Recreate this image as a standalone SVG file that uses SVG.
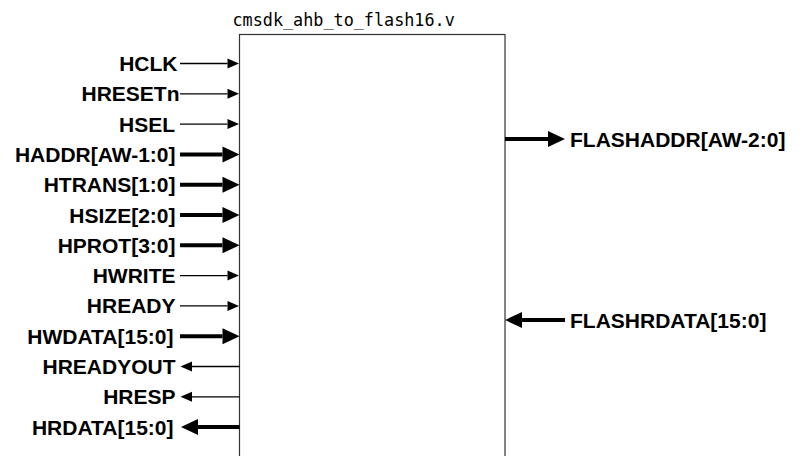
<svg xmlns="http://www.w3.org/2000/svg" width="805" height="456" viewBox="0 0 805 456">
<defs>
<style>
.lbl{font-family:"Liberation Sans",Arial,sans-serif;font-weight:bold;font-size:21px;fill:#000}
.title{font-family:"DejaVu Sans Mono",monospace;font-size:16.8px;fill:#000}
.thin{stroke:#000;stroke-width:1.3;fill:none}
.thick{stroke:#000;stroke-width:4;fill:none}
.box{fill:#fff;stroke:#333;stroke-width:1.2}
</style>
<marker id="hs" markerUnits="userSpaceOnUse" markerWidth="12" markerHeight="10" refX="0" refY="5" orient="auto" overflow="visible">
<path d="M0,0 L11.5,5 L0,10 Z" fill="#000"/>
</marker>
<marker id="hb" markerUnits="userSpaceOnUse" markerWidth="18" markerHeight="16" refX="0" refY="8" orient="auto" overflow="visible">
<path d="M0,0 L17,8 L0,16 Z" fill="#000"/>
</marker>
</defs>
<rect width="805" height="456" fill="#fff"/>
<g id="module">
<rect class="box" x="239.5" y="34.5" width="265.5" height="440"/>
<text class="title" x="232.5" y="25.5">cmsdk_ahb_to_flash16.v</text>
</g>
<g id="connectors">
<line class="thin" x1="180" y1="63.5" x2="227.5" y2="63.5" marker-end="url(#hs)"/>
<line class="thin" x1="180" y1="93.8" x2="227.5" y2="93.8" marker-end="url(#hs)"/>
<line class="thin" x1="180" y1="124.1" x2="227.5" y2="124.1" marker-end="url(#hs)"/>
<line class="thick" x1="180" y1="154.4" x2="222.5" y2="154.4" marker-end="url(#hb)"/>
<line class="thick" x1="180" y1="184.7" x2="222.5" y2="184.7" marker-end="url(#hb)"/>
<line class="thick" x1="180" y1="215" x2="222.5" y2="215" marker-end="url(#hb)"/>
<line class="thick" x1="180" y1="245.3" x2="222.5" y2="245.3" marker-end="url(#hb)"/>
<line class="thin" x1="180" y1="275.6" x2="227.5" y2="275.6" marker-end="url(#hs)"/>
<line class="thin" x1="180" y1="305.9" x2="227.5" y2="305.9" marker-end="url(#hs)"/>
<line class="thick" x1="180" y1="336.2" x2="222.5" y2="336.2" marker-end="url(#hb)"/>
<line class="thin" x1="239.5" y1="366.5" x2="192" y2="366.5" marker-end="url(#hs)"/>
<line class="thin" x1="239.5" y1="396.8" x2="192" y2="396.8" marker-end="url(#hs)"/>
<line class="thick" x1="239.5" y1="427.1" x2="198" y2="427.1" marker-end="url(#hb)"/>
<line class="thick" x1="505" y1="139" x2="548" y2="139" marker-end="url(#hb)"/>
<line class="thick" x1="565" y1="320" x2="522" y2="320" marker-end="url(#hb)"/>
</g>
<g id="ports" text-anchor="end">
<text class="lbl" x="177.5" y="71">HCLK</text>
<text class="lbl" x="179.5" y="101.3">HRESETn</text>
<text class="lbl" x="175" y="131.6">HSEL</text>
<text class="lbl" x="175.5" y="161.9">HADDR[AW-1:0]</text>
<text class="lbl" x="175.5" y="192.2">HTRANS[1:0]</text>
<text class="lbl" x="175.5" y="222.5">HSIZE[2:0]</text>
<text class="lbl" x="175.5" y="252.8">HPROT[3:0]</text>
<text class="lbl" x="175.5" y="283.1">HWRITE</text>
<text class="lbl" x="175.5" y="313.4">HREADY</text>
<text class="lbl" x="173.5" y="343.7">HWDATA[15:0]</text>
<text class="lbl" x="175.5" y="374">HREADYOUT</text>
<text class="lbl" x="175.5" y="404.3">HRESP</text>
<text class="lbl" x="173.5" y="434.6">HRDATA[15:0]</text>
</g>
<g id="flash-ports">
<text class="lbl" x="570" y="146.5">FLASHADDR[AW-2:0]</text>
<text class="lbl" x="570" y="327.5">FLASHRDATA[15:0]</text>
</g>
</svg>
